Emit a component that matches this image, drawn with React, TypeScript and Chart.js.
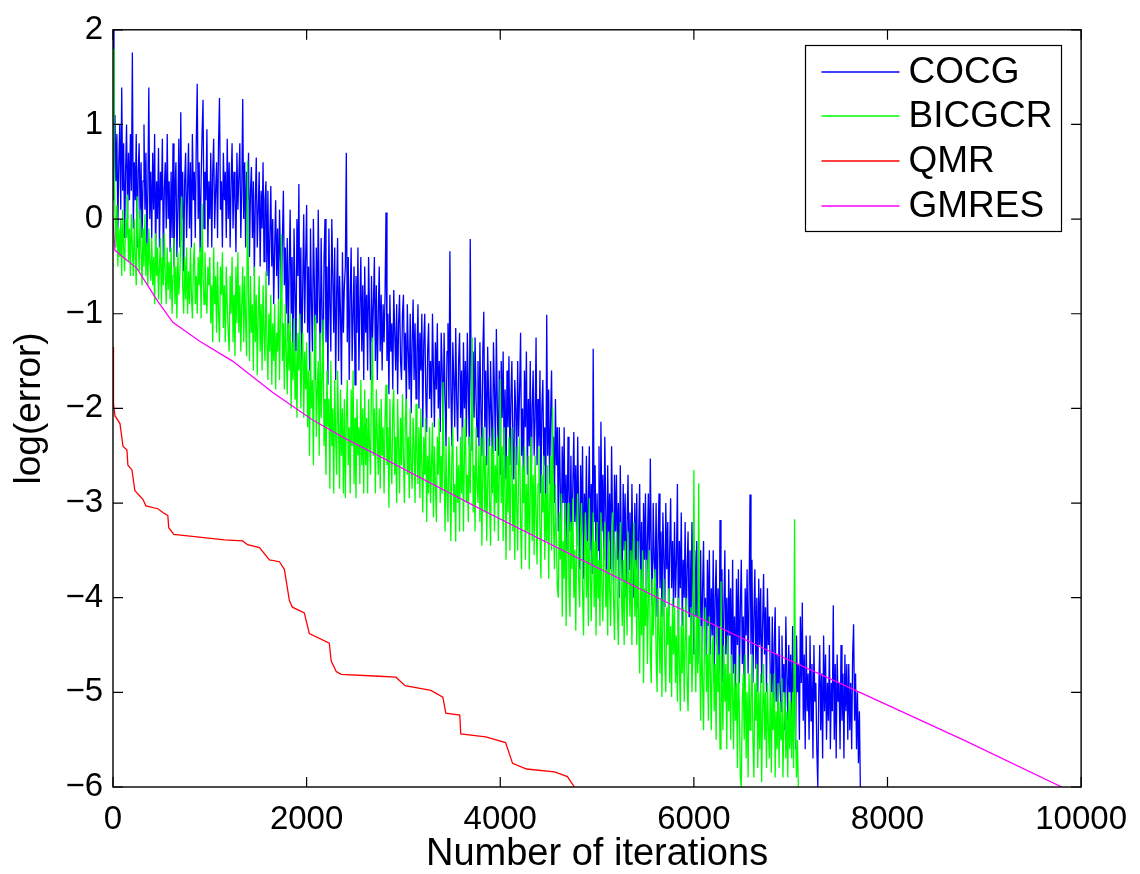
import React, { useEffect, useRef } from 'react';
import { Chart, registerables } from 'chart.js';

Chart.register(...registerables);

// ---- axis ticks ----
const X_TICKS = [0, 2000, 4000, 6000, 8000, 10000];
const X_TICK_LABELS = ['0', '2000', '4000', '6000', '8000', '10000'];
const Y_TICKS = [-6, -5, -4, -3, -2, -1, 0, 1, 2];
const Y_TICK_LABELS = ['\u22126', '\u22125', '\u22124', '\u22123', '\u22122', '\u22121', '0', '1', '2'];

// ---- series ----
const SERIES_NAMES = ['COCG', 'BICGCR', 'QMR', 'GMRES'];
const SERIES_COLORS = ['#0000ff', '#00ff00', '#ff0000', '#ff00ff'];

// COCG: log(error) sampled every 10 iterations, starting at iteration 0 (20 values = 200 iterations per row)
const COCG_STEP = 10;
const COCG = [
  2.0, 0.2, 1.1, 0.4, 0.9, -0.1, 0.6, 1.0, 0.1, 1.39, 0.3, 0.8, -0.2, 0.5, 1.0, 0.0, 0.7, 0.2, 0.9, 0.3,
  1.76, -0.1, 0.6, 0.2, 0.9, -0.3, 0.5, 0.8, 0.0, 0.6, -0.2, 0.4, 1.0, 0.1, 0.7, -0.3, 0.3, 1.39, 0.0, 0.5,
  -0.2, 0.7, 0.1, 0.9, -0.4, 0.4, 0.0, 0.75, -0.3, 0.5, 0.2, 0.85, -0.45, 0.3, 0.6, -0.1, 0.9, 0.0, 0.4, -0.35,
  0.5, -0.2, 0.8, -0.5, 0.3, 0.6, -0.4, 0.1, 0.85, -0.3, 1.13, 0.0, 0.5, -0.55, 0.4, 0.7, -0.2, 0.3, 0.8, -0.1,
  0.6, -0.3, 0.9, 0.2, 0.5, -0.2, 0.8, 1.43, 0.0, 0.6, -0.35, 0.4, 0.9, 1.26, -0.1, 0.5, 0.2, 0.95, -0.3, 0.4,
  0.0, 0.7, -0.3, 0.5, 0.85, -0.1, 0.3, 0.6, -0.2, 0.8, 1.28, 0.1, 0.4, -0.3, 0.7, 0.2, 0.5, -0.2, 0.85, 0.0,
  0.6, -0.3, 0.4, 0.8, -0.1, 0.5, 0.2, -0.35, 0.7, 0.1, 0.45, 0.8, -0.2, 0.3, 1.27, 0.0, 0.6, -0.3, 0.5, 0.2,
  0.7, -0.4, 0.3, 0.55, -0.2, 0.4, -0.6, 0.2, 0.65, -0.3, 0.1, 0.5, -0.5, 0.3, -0.1, 0.6, -0.45, 0.2, 0.4, -0.6,
  0.3, -0.7, -0.2, 0.35, -0.5, 0.0, -0.9, -0.3, 0.2, -0.6, -0.1, -0.85, 0.1, -0.4, -0.8, -0.2, 0.3, -0.7, -0.3, -1.0,
  -0.2, -1.3, -0.5, 0.1, -1.0, -0.4, -1.6, -0.1, -0.8, -1.4, 0.0, -0.6, 0.37, -1.2, -0.3, -1.5, -0.7, 0.05, -1.1, -0.4,
  0.15, -1.2, -0.5, -1.6, -0.1, -0.9, -1.4, 0.0, -0.7, -1.7, -0.3, -1.1, 0.1, -0.8, -1.5, -0.2, -1.0, -1.65, -0.4, 0.0,
  -1.3, -0.5, -1.75, -0.1, -0.9, -1.4, 0.0, -0.6, -1.2, -0.3, -1.7, -0.8, -0.2, -1.5, -0.6, -1.0, -1.75, -0.35, -1.2, -0.7,
  -0.5, 0.7, -1.3, -0.4, -1.7, -0.8, -0.3, -1.5, -1.0, -0.5, -1.75, -0.6, -1.2, -0.3, -1.6, -0.9, -0.4, -1.4, -0.7, -1.7,
  -0.5, -1.2, -0.8, -1.6, -0.4, -1.0, -1.7, -0.6, -1.3, -0.9, -0.4, -1.5, -0.7, -1.7, -1.0, -0.5, -1.4, -0.8, -1.6, -0.9,
  -1.3, -0.8, 0.07, -1.5, -1.0, -1.85, -0.8, -1.4, -1.1, -1.8, -0.75, -1.2, -1.6, -0.9, -1.85, -1.1, -0.8, -1.5, -1.7, -1.0,
  -0.8, -1.6, -1.2, -2.0, -0.9, -1.4, -1.8, -1.0, -2.05, -1.3, -0.85, -1.7, -1.1, -1.9, -1.4, -0.9, -2.0, -1.2, -1.6, -1.0,
  -2.2, -1.3, -1.0, -1.8, -2.25, -1.4, -1.1, -1.9, -1.5, -2.1, -1.0, -1.6, -2.2, -1.3, -1.8, -1.1, -2.0, -1.5, -2.25, -1.2,
  -1.6, -2.3, -1.2, -1.9, -2.4, -1.4, -1.1, -2.0, -0.34, -1.8, -2.4, -1.3, -1.7, -2.2, -1.15, -1.9, -2.35, -1.5, -1.2, -2.1,
  -1.6, -2.45, -1.3, -2.0, -1.5, -2.3, -1.2, -1.8, -2.4, -0.21, -1.7, -2.45, -1.4, -2.1, -1.25, -1.9, -2.3, -1.5, -2.4, -1.3,
  -2.0, -2.5, -1.4, -0.98, -2.2, -1.6, -2.6, -1.35, -1.9, -2.4, -1.5, -2.1, -2.6, -1.3, -1.8, -2.45, -1.16, -2.0, -2.5, -1.6,
  -2.7, -1.5, -2.1, -1.4, -2.5, -1.8, -2.75, -1.6, -2.2, -1.45, -2.6, -1.9, -1.5, -2.4, -2.75, -1.7, -2.0, -2.6, -1.5, -2.3,
  -1.8, -1.2, -2.5, -2.0, -2.8, -1.6, -2.2, -1.4, -2.7, -1.9, -2.4, -1.5, -2.8, -2.0, -1.6, -2.5, -2.1, -1.25, -2.6, -1.9,
  -2.4, -1.6, -2.9, -2.0, -1.7, -2.6, -2.2, -3.0, -1.01, -2.5, -1.8, -2.8, -2.1, -1.6, -2.7, -2.3, -3.0, -1.9, -2.6, -2.2,
  -3.3, -2.2, -2.8, -3.5, -2.4, -3.0, -2.2, -3.4, -2.7, -3.5, -2.3, -2.9, -3.3, -2.5, -3.5, -2.8, -2.25, -3.2, -2.6, -3.45,
  -2.3, -3.1, -3.7, -2.6, -3.3, -2.4, -3.8, -2.9, -3.4, -2.5, -3.6, -3.0, -2.4, -3.5, -2.8, -3.75, -1.37, -3.2, -2.6, -3.8,
  -2.9, -3.5, -2.4, -3.85, -2.14, -3.3, -2.7, -3.6, -2.3, -3.1, -3.8, -2.6, -3.4, -2.9, -3.7, -2.4, -3.2, -3.85, -2.7, -3.3,
  -2.7, -3.6, -3.0, -4.0, -2.6, -3.4, -3.8, -2.8, -3.5, -2.9, -4.0, -3.2, -2.7, -3.7, -3.1, -3.9, -2.8, -3.5, -4.0, -3.0,
  -3.7, -2.9, -4.1, -3.3, -2.8, -3.9, -3.2, -4.15, -3.0, -3.6, -2.9, -4.0, -3.4, -2.9, -3.8, -2.53, -3.5, -4.1, -3.0, -3.6,
  -3.8, -3.0, -4.2, -3.4, -2.9, -3.9, -3.3, -4.2, -3.1, -3.6, -4.1, -3.0, -3.7, -3.2, -4.2, -3.5, -2.95, -3.9, -3.4, -4.1,
  -3.2, -4.0, -3.6, -2.8, -4.4, -3.4, -3.9, -3.1, -4.3, -3.6, -4.0, -3.2, -4.4, -3.7, -3.3, -4.2, -3.5, -4.4, -3.2, -3.9,
  -4.6, -3.5, -4.2, -3.4, -4.7, -3.8, -4.3, -3.5, -4.6, -3.9, -3.4, -4.5, -4.0, -4.7, -3.6, -4.3, -3.5, -4.6, -3.9, -4.4,
  -3.5, -4.9, -4.0, -3.6, -4.5, -3.9, -4.8, -3.18, -4.3, -3.7, -4.9, -4.1, -3.5, -4.6, -4.0, -4.8, -3.7, -4.4, -3.9, -4.9,
  -3.6, -4.8, -4.2, -5.0, -3.8, -4.5, -3.7, -4.9, -4.1, -3.6, -4.7, -4.2, -5.0, -3.9, -4.4, -3.7, -4.8, -4.0, -2.91, -4.6,
  -3.6, -4.9, -4.2, -3.7, -4.75, -4.0, -5.0, -3.8, -4.5, -3.9, -4.9, -4.3, -3.75, -4.6, -4.1, -5.0, -3.9, -4.5, -4.2, -4.9,
  -5.0, -4.2, -5.3, -4.5, -4.1, -5.1, -4.6, -5.4, -4.3, -4.9, -5.2, -4.4, -5.0, -4.7, -5.4, -4.2, -4.8, -5.3, -4.5, -5.0,
  -4.6, -5.5, -4.3, -5.1, -4.8, -5.6, -4.4, -5.0, -4.7, -5.5, -4.2, -4.9, -4.05, -5.3, -4.6, -5.6, -4.4, -5.2, -4.8, -5.5,
  -4.4, -5.3, -4.7, -5.7, -4.5, -5.1, -4.9, -5.6, -6.0, -5.0, -4.5, -5.4, -4.8, -5.7, -4.4, -5.2, -4.6, -5.5, -4.9, -5.3,
  -4.5, -5.6, -4.9, -5.2, -4.08, -5.5, -4.7, -5.7, -4.6, -5.1, -4.9, -5.6, -4.5, -5.3, -4.8, -5.7, -4.6, -5.2, -4.7, -5.5,
  -4.7, -5.4, -4.9, -5.6, -4.6, -4.28, -5.3, -4.8, -5.6, -5.0, -5.75, -5.2, -6.05,
];

// BICGCR: log(error) sampled every 10 iterations, starting at iteration 0 (20 values = 200 iterations per row)
const BICGCR_STEP = 10;
const BICGCR = [
  1.8, 0.7, 0.1, -0.3, 0.15, -0.5, -0.1, -0.4, 0.0, -0.6, 0.1, -0.3, -0.55, 0.0, -0.2, 0.26, -0.45, -0.1, -0.6, 0.05,
  -0.3, -0.6, 0.0, -0.4, -0.7, 0.24, -0.2, -0.55, 0.1, -0.35, -0.7, -0.1, -0.5, 0.05, -0.6, -0.25, -0.7, -0.1, -0.45, -0.65,
  -0.2, -0.7, -0.4, -0.9, -0.15, -0.6, -0.3, -0.85, -0.5, -0.2, -0.9, -0.4, -0.7, -0.15, -0.6, -0.9, -0.3, -0.75, -0.45, -0.85,
  -0.3, -1.0, -0.6, -0.2, -0.9, -0.5, -1.05, -0.35, -0.8, -0.6, -0.2, 0.24, -0.7, -1.0, -0.4, -0.85, -0.3, -1.0, -0.55, -0.9,
  -0.3, -0.8, -1.05, -0.5, -0.25, -0.9, -0.6, -1.0, -0.4, -0.7, -0.3, -1.05, 0.16, -0.6, -0.9, -0.35, -0.8, -1.0, -0.5, -0.7,
  -0.4, -1.1, -0.7, -1.3, -0.3, -0.9, -0.6, -1.2, -0.45, -1.0, -1.3, -0.5, -0.8, -0.35, -1.15, -0.7, -1.3, -0.5, -0.9, -1.2,
  -1.4, -0.6, -1.0, -0.4, -1.3, -0.8, -1.45, -0.5, -1.1, -0.35, -1.2, -0.7, -1.4, -0.9, -0.5, -1.3, -0.6, -1.1, -1.45, 0.61,
  -0.8, -1.5, -0.6, -1.2, -0.9, -1.6, -0.5, -1.3, -0.8, -1.65, -1.0, -0.6, -1.4, -0.9, -1.6, -0.7, -1.2, -1.5, -0.55, -1.3,
  -1.7, -1.0, -1.4, -0.8, -1.75, -1.1, -1.5, -0.9, -1.8, -1.2, -1.4, -0.85, -1.7, -1.0, -0.16, -1.5, -1.1, -1.8, -0.9, -1.4,
  -1.85, -1.1, -1.6, -1.0, -2.0, -1.3, -1.7, -1.05, -1.9, -1.4, -2.1, -1.2, -1.6, -1.0, -2.0, -1.5, -1.2, -2.1, -1.4, -1.8,
  -1.3, -2.2, -1.6, -2.5, -1.4, -2.0, -1.7, -2.6, -1.3, -1.01, -2.3, -1.8, -1.5, -2.5, -1.2, -2.1, -1.7, -1.06, -2.4, -1.9,
  -2.7, -1.6, -2.2, -1.9, -2.85, -1.5, -2.4, -2.0, -2.9, -1.7, -2.3, -2.7, -1.6, -2.2, -2.85, -1.8, -2.5, -2.0, -2.9, -1.9,
  -2.95, -2.1, -1.7, -2.6, -2.2, -2.9, -1.8, -2.4, -1.6, -2.8, -2.1, -2.95, -1.9, -2.5, -2.2, -2.8, -1.7, -2.6, -2.0, -2.9,
  -1.8, -2.6, -2.1, -2.9, -1.9, -2.4, -2.7, -1.7, -1.25, -2.5, -2.0, -2.9, -1.8, -2.3, -2.7, -2.0, -2.85, -1.9, -2.5, -2.2,
  -2.9, -2.1, -1.75, -2.6, -2.2, -3.05, -1.9, -2.5, -2.8, -2.0, -1.8, -2.7, -2.3, -3.0, -1.9, -2.4, -2.9, -2.1, -2.6, -1.85,
  -2.5, -3.0, -2.1, -1.9, -2.7, -2.3, -2.95, -2.0, -2.6, -2.85, -2.1, -2.4, -3.0, -1.95, -2.5, -2.8, -2.2, -2.95, -2.0, -2.6,
  -3.1, -2.3, -2.7, -2.1, -3.2, -2.5, -2.9, -2.2, -3.0, -2.6, -2.15, -3.15, -2.4, -2.8, -3.2, -2.3, -2.7, -2.1, -3.0, -2.5,
  -2.9, -1.72, -2.6, -3.3, -2.4, -2.9, -3.2, -2.3, -2.7, -3.4, -2.5, -2.2, -3.1, -2.8, -3.41, -2.4, -3.0, -2.6, -3.3, -2.3,
  -2.9, -2.2, -3.3, -2.5, -2.1, -3.0, -2.7, -3.2, -2.3, -2.9, -2.1, -1.25, -3.1, -2.6, -3.3, -2.2, -2.8, -3.0, -2.4, -3.2,
  -2.3, -3.45, -2.7, -2.2, -3.1, -2.5, -3.4, -2.8, -2.3, -3.0, -3.45, -2.4, -2.9, -2.2, -3.3, -2.6, -3.0, -2.3, -3.4, -2.7,
  -1.69, -3.0, -2.4, -3.4, -2.2, -2.9, -3.6, -2.5, -3.1, -2.3, -3.5, -2.7, -2.2, -3.3, -2.8, -3.6, -2.4, -3.0, -3.5, -2.6,
  -2.3, -3.2, -3.7, -2.6, -3.0, -2.4, -3.6, -2.8, -3.3, -2.5, -3.7, -2.9, -2.3, -3.4, -2.7, -3.55, -2.5, -3.1, -3.65, -2.8,
  -2.4, -3.3, -3.8, -2.7, -3.1, -2.5, -3.6, -2.9, -3.4, -2.6, -3.8, -3.0, -2.5, -3.5, -1.98, -3.2, -3.7, -2.8, -3.4, -3.9,
  -4.0, -3.1, -3.6, -2.9, -4.2, -3.4, -3.8, -3.0, -4.3, -3.5, -3.0, -3.9, -4.2, -3.2, -3.7, -2.95, -4.0, -3.5, -4.35, -3.3,
  -2.9, -3.8, -4.1, -3.3, -3.0, -3.9, -4.4, -3.5, -3.1, -4.0, -3.4, -4.3, -2.95, -3.7, -4.25, -3.6, -3.1, -4.1, -3.4, -4.4,
  -3.2, -4.0, -3.6, -4.3, -3.1, -3.9, -4.25, -3.5, -3.2, -4.1, -3.7, -4.4, -3.3, -3.9, -4.3, -3.5, -3.1, -4.0, -4.45, -3.6,
  -3.3, -4.1, -4.5, -3.7, -3.2, -3.9, -4.3, -3.6, -4.5, -3.4, -3.9, -4.4, -3.3, -3.8, -4.2, -3.5, -4.5, -3.7, -3.2, -4.2,
  -3.6, -4.5, -3.4, -4.2, -4.8, -3.7, -4.4, -3.5, -4.9, -3.9, -4.3, -3.6, -4.7, -4.0, -3.5, -4.6, -4.9, -3.8, -4.4, -4.0,
  -3.7, -4.6, -5.0, -3.9, -4.4, -4.8, -4.0, -5.05, -4.2, -3.8, -4.7, -5.0, -4.1, -4.5, -3.9, -4.9, -4.3, -5.05, -4.0, -4.6,
  -4.1, -4.9, -4.4, -5.1, -4.0, -4.7, -5.2, -4.3, -4.8, -4.1, -5.1, -4.5, -4.0, -4.9, -5.2, -4.4, -4.7, -4.1, -5.0, -4.6,
  -2.65, -4.5, -5.0, -4.2, -4.8, -2.79, -4.6, -5.3, -4.3, -4.9, -5.4, -4.4, -4.1, -5.0, -4.6, -5.3, -4.2, -4.8, -5.4, -4.5,
  -4.4, -5.2, -4.7, -5.5, -4.3, -5.0, -4.6, -5.6, -3.83, -4.9, -5.4, -4.5, -5.1, -4.7, -5.6, -4.4, -5.2, -4.8, -5.5, -4.6,
  -5.0, -5.6, -4.7, -5.3, -4.9, -5.8, -4.6, -5.2, -5.9, -6.0, -5.1, -4.8, -5.5, -4.6, -5.7, -5.0, -5.9, -4.8, -5.4, -5.1,
  -4.6, -5.5, -5.9, -4.9, -5.3, -4.7, -5.8, -5.0, -5.6, -4.8, -5.95, -5.2, -4.7, -5.5, -5.0, -5.8, -4.9, -5.4, -5.7, -4.8,
  -5.85, -5.0, -5.4, -4.8, -5.9, -5.2, -5.6, -4.9, -5.8, -5.1, -5.5, -4.85, -5.9, -5.3, -5.0, -5.7, -5.2, -5.9, -5.0, -5.6,
  -5.1, -5.7, -5.0, -5.8, -3.17, -5.4, -5.9, -5.5, -6.05,
];

// QMR
const QMR_X = [0, 5, 21, 72, 103, 144, 154, 196, 226, 309, 340, 463, 515, 566, 576, 628, 1153, 1338, 1390, 1513,
  1616, 1719, 1770, 1822, 1853, 1976, 2028, 2234, 2254, 2306, 2357, 2748, 2923, 3016, 3284, 3407, 3438, 3582, 3592,
  3850, 4055, 4127, 4272, 4560, 4694, 4766];
const QMR_Y = [-1.35, -1.95, -2.08, -2.16, -2.40, -2.44, -2.60, -2.65, -2.87, -2.96, -3.03, -3.06, -3.10, -3.13, -3.26,
  -3.33, -3.39, -3.40, -3.44, -3.47, -3.60, -3.62, -3.70, -4.03, -4.10, -4.16, -4.38, -4.48, -4.67, -4.78, -4.81,
  -4.83, -4.84, -4.93, -4.98, -5.05, -5.22, -5.24, -5.44, -5.47, -5.53, -5.75, -5.81, -5.84, -5.89, -6.0];

// GMRES
const GMRES_X = [0, 20, 125, 247, 309, 463, 618, 896, 1235, 1647, 2059, 2400, 2800, 3300, 3827, 4800, 5782, 6750, 7737, 8800, 9800];
const GMRES_Y = [0, -0.33, -0.42, -0.52, -0.62, -0.87, -1.09, -1.29, -1.50, -1.83, -2.12, -2.32, -2.53, -2.80, -3.08,
  -3.58, -4.08, -4.55, -5.01, -5.51, -6.0];

const FONT = '"Liberation Sans", Arial, Helvetica, sans-serif';

function stepSeries(values: number[], step: number) {
  return values.map((y, i) => ({ x: i * step, y }));
}
function pairSeries(xs: number[], ys: number[]) {
  return xs.map((x, i) => ({ x, y: ys[i] }));
}

const framePlugin = {
  id: 'matlabFrame',
  afterDatasetsDraw(chart: any) {
    const { ctx, chartArea: a, scales } = chart;
    const xs = scales.x;
    const ys = scales.y;
    ctx.save();
    ctx.strokeStyle = '#000';
    ctx.lineWidth = 1.4;
    ctx.strokeRect(a.left, a.top, a.right - a.left, a.bottom - a.top);
    const T = 10;
    ctx.lineWidth = 1.2;
    ctx.beginPath();
    X_TICKS.forEach((v) => {
      const px = xs.getPixelForValue(v);
      ctx.moveTo(px, a.bottom);
      ctx.lineTo(px, a.bottom - T);
      ctx.moveTo(px, a.top);
      ctx.lineTo(px, a.top + T);
    });
    Y_TICKS.forEach((v) => {
      const py = ys.getPixelForValue(v);
      ctx.moveTo(a.left, py);
      ctx.lineTo(a.left + T, py);
      ctx.moveTo(a.right, py);
      ctx.lineTo(a.right - T, py);
    });
    ctx.stroke();

    // legend box (top-right, inside axes)
    const bw = 256;
    const bh = 186;
    const bx = Math.round(a.right - 20 - bw) + 0.5;
    const by = Math.round(a.top + 15) + 0.5;
    ctx.fillStyle = '#fff';
    ctx.fillRect(bx, by, bw, bh);
    ctx.lineWidth = 1.2;
    ctx.strokeStyle = '#000';
    ctx.strokeRect(bx, by, bw, bh);
    ctx.font = `37px ${FONT}`;
    ctx.textBaseline = 'middle';
    ctx.textAlign = 'left';
    SERIES_NAMES.forEach((name, i) => {
      const cy = Math.round(by + 26 + i * 44.7);
      ctx.strokeStyle = SERIES_COLORS[i];
      ctx.lineWidth = 1.6;
      ctx.beginPath();
      ctx.moveTo(bx + 16, cy);
      ctx.lineTo(bx + 94, cy);
      ctx.stroke();
      ctx.fillStyle = '#000';
      ctx.fillText(name, bx + 103, cy + 1);
    });
    ctx.restore();
  },
};

export default function App() {
  const canvasRef = useRef<HTMLCanvasElement | null>(null);

  useEffect(() => {
    if (!canvasRef.current) return;
    const datasets = [
      { label: SERIES_NAMES[0], data: stepSeries(COCG, COCG_STEP), borderColor: SERIES_COLORS[0], borderWidth: 1.3, order: 4 },
      { label: SERIES_NAMES[1], data: stepSeries(BICGCR, BICGCR_STEP), borderColor: SERIES_COLORS[1], borderWidth: 1.3, order: 3 },
      { label: SERIES_NAMES[2], data: pairSeries(QMR_X, QMR_Y), borderColor: SERIES_COLORS[2], borderWidth: 1.3, order: 2 },
      { label: SERIES_NAMES[3], data: pairSeries(GMRES_X, GMRES_Y), borderColor: SERIES_COLORS[3], borderWidth: 1.3, order: 1 },
    ].map((d) => ({ ...d, pointRadius: 0, tension: 0, fill: false, backgroundColor: d.borderColor }));

    const chart = new Chart(canvasRef.current, {
      type: 'line',
      data: { datasets },
      options: {
        animation: false,
        responsive: false,
        devicePixelRatio: 1,
        layout: { padding: { top: 22, right: 56, left: 0, bottom: 0 } },
        plugins: { legend: { display: false }, tooltip: { enabled: false } },
        scales: {
          x: {
            type: 'linear',
            min: 0,
            max: 10000,
            grid: { display: false, drawTicks: false },
            border: { display: false },
            afterBuildTicks: (s: any) => { s.ticks = X_TICKS.map((v) => ({ value: v })); },
            afterFit: (s: any) => { s.height = 87; },
            ticks: {
              color: '#000',
              padding: 13,
              maxRotation: 0,
              font: { family: FONT, size: 33 },
              callback: (v: any) => X_TICK_LABELS[X_TICKS.indexOf(Number(v))] ?? '',
            },
            title: {
              display: true,
              text: 'Number of iterations',
              color: '#000',
              font: { family: FONT, size: 38, lineHeight: 1 },
              padding: { top: 0, bottom: 0 },
            },
          },
          y: {
            type: 'linear',
            min: -6,
            max: 2,
            grid: { display: false, drawTicks: false },
            border: { display: false },
            afterBuildTicks: (s: any) => { s.ticks = Y_TICKS.map((v) => ({ value: v })); },
            afterFit: (s: any) => { s.width = 113; },
            ticks: {
              color: '#000',
              padding: 10,
              font: { family: FONT, size: 33 },
              callback: (v: any) => Y_TICK_LABELS[Y_TICKS.indexOf(Number(v))] ?? '',
            },
            title: {
              display: true,
              text: 'log(error)',
              color: '#000',
              font: { family: FONT, size: 37, lineHeight: 1 },
              padding: { top: 11, bottom: 0 },
            },
          },
        },
      },
      plugins: [framePlugin],
    });
    return () => chart.destroy();
  }, []);

  return (
    <div style={{ position: 'absolute', left: 0, top: 0, width: 1140, height: 874, background: '#fff' }}>
      <canvas ref={canvasRef} width={1140} height={874} style={{ display: 'block' }} />
    </div>
  );
}
